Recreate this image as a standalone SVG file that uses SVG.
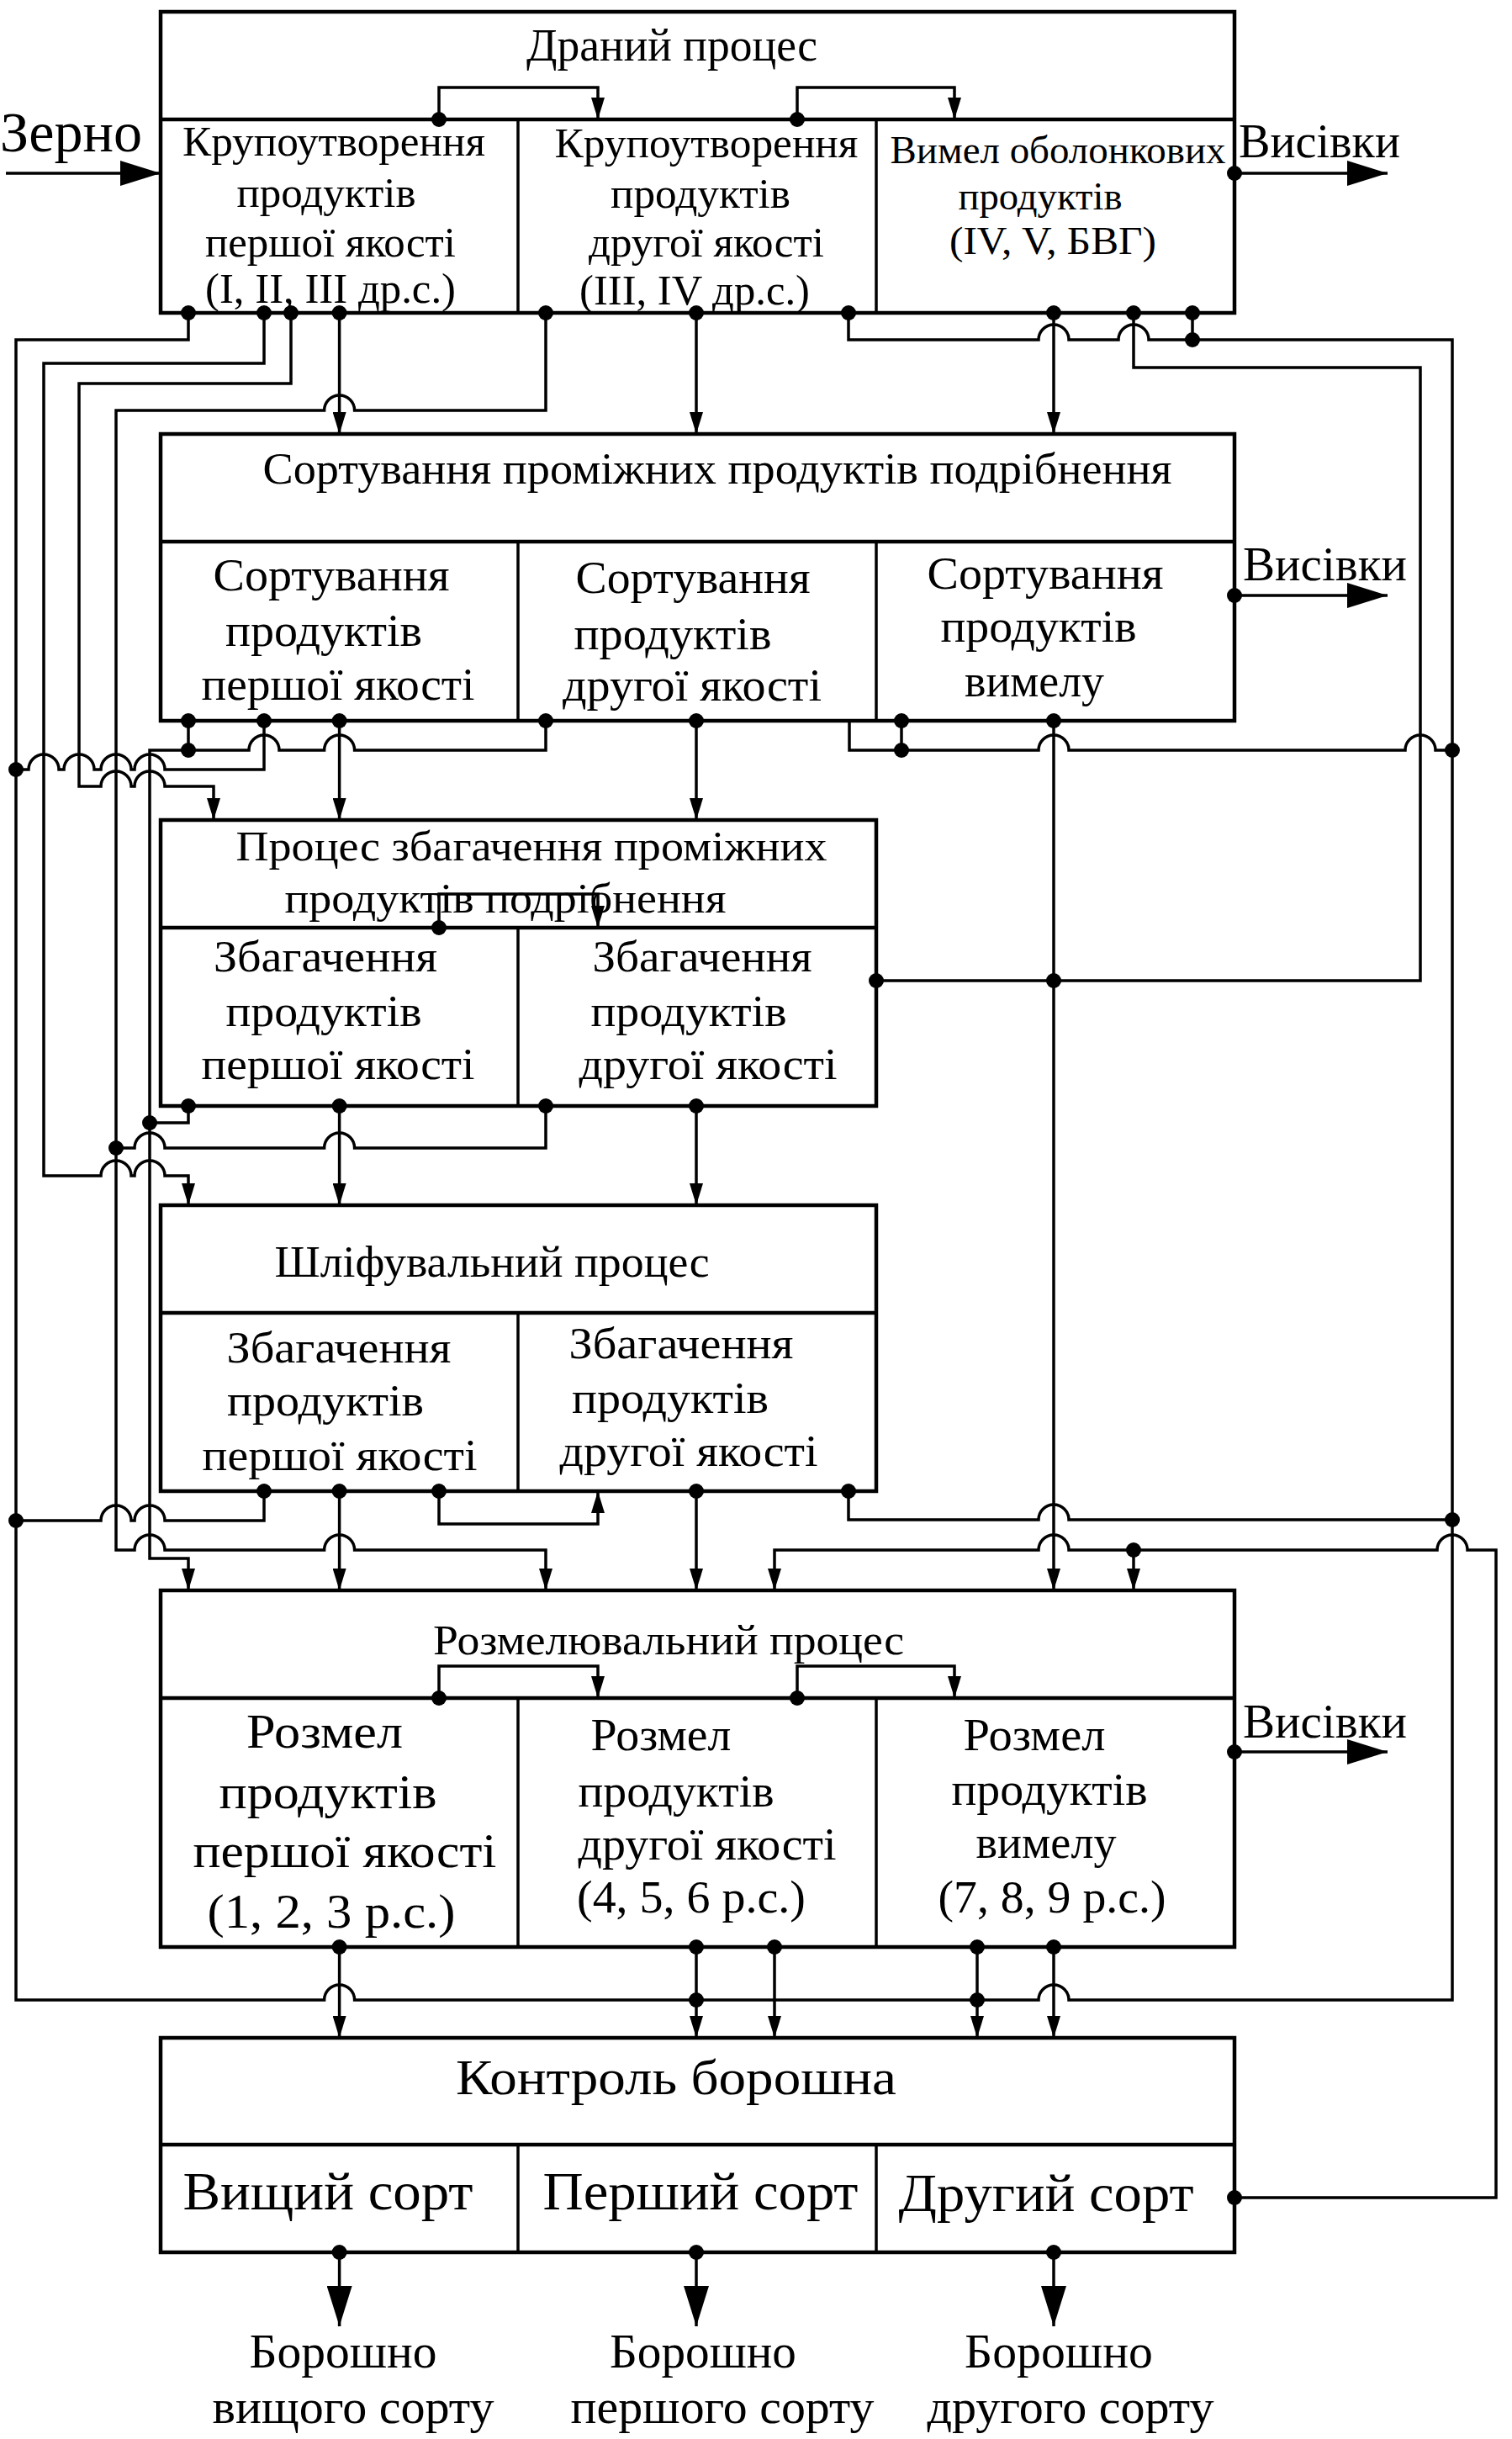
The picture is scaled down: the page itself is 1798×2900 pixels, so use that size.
<svg xmlns="http://www.w3.org/2000/svg" width="1798" height="2900" viewBox="0 0 1798 2900">
<style>
.b{fill:none;stroke:#000;stroke-width:4.5}
.v{fill:none;stroke:#000;stroke-width:3.5}
.c{fill:none;stroke:#000;stroke-width:3.5}
.ca{fill:none;stroke:#000;stroke-width:3.5;marker-end:url(#ar)}
.cb{fill:none;stroke:#000;stroke-width:3.5;marker-end:url(#big)}
.t{font-family:"Liberation Serif","Times New Roman",serif;fill:#000;text-anchor:middle}
.s{font-family:"Liberation Serif","Times New Roman",serif;fill:#000}
circle{fill:#000}
</style>
<defs>
<marker id="ar" viewBox="0 0 26 16" refX="26" refY="8" markerWidth="26" markerHeight="16" markerUnits="userSpaceOnUse" orient="auto"><path d="M0,0 L26,8 L0,16 z" fill="#000"/></marker>
<marker id="big" viewBox="0 0 48 30" refX="48" refY="15" markerWidth="48" markerHeight="30" markerUnits="userSpaceOnUse" orient="auto"><path d="M0,0 L48,15 L0,30 z" fill="#000"/></marker>
</defs>
<rect width="1798" height="2900" fill="#fff"/>

<g id="drany">
<rect class="b" x="191" y="14" width="1277" height="358"/>
<line class="b" x1="191" y1="142" x2="1468" y2="142"/>
<line class="v" x1="616" y1="142" x2="616" y2="372"/>
<line class="v" x1="1042" y1="142" x2="1042" y2="372"/>
<text class="t" x="799" y="72" font-size="54" textLength="346" lengthAdjust="spacingAndGlyphs">Драний процес</text>
<text class="t" x="397" y="185" font-size="50" textLength="360" lengthAdjust="spacingAndGlyphs">Крупоутворення</text>
<text class="t" x="388" y="246" font-size="50" textLength="213" lengthAdjust="spacingAndGlyphs">продуктів</text>
<text class="t" x="393" y="305" font-size="50" textLength="298" lengthAdjust="spacingAndGlyphs">першої якості</text>
<text class="t" x="393" y="360" font-size="50" textLength="298" lengthAdjust="spacingAndGlyphs">(I, II, III др.с.)</text>
<text class="t" x="840" y="187" font-size="50" textLength="361" lengthAdjust="spacingAndGlyphs">Крупоутворення</text>
<text class="t" x="833" y="247" font-size="50" textLength="214" lengthAdjust="spacingAndGlyphs">продуктів</text>
<text class="t" x="840" y="305" font-size="50" textLength="280" lengthAdjust="spacingAndGlyphs">другої якості</text>
<text class="t" x="826" y="362" font-size="50" textLength="274" lengthAdjust="spacingAndGlyphs">(III, IV др.с.)</text>
<text class="t" x="1258" y="194" font-size="46" textLength="399" lengthAdjust="spacingAndGlyphs">Вимел оболонкових</text>
<text class="t" x="1237" y="249" font-size="46" textLength="195" lengthAdjust="spacingAndGlyphs">продуктів</text>
<text class="t" x="1252" y="302" font-size="46" textLength="246" lengthAdjust="spacingAndGlyphs">(IV, V, БВГ)</text>
</g>

<g id="labels">
<text class="s" x="0" y="180" font-size="68" textLength="169" lengthAdjust="spacingAndGlyphs">Зерно</text>
<text class="s" x="1473" y="187" font-size="56" textLength="192" lengthAdjust="spacingAndGlyphs">Висівки</text>
<text class="s" x="1478" y="690" font-size="56" textLength="195" lengthAdjust="spacingAndGlyphs">Висівки</text>
<text class="s" x="1478" y="2066" font-size="56" textLength="195" lengthAdjust="spacingAndGlyphs">Висівки</text>
<text class="t" x="408" y="2815" font-size="57" textLength="223" lengthAdjust="spacingAndGlyphs">Борошно</text>
<text class="t" x="420" y="2881" font-size="57" textLength="335" lengthAdjust="spacingAndGlyphs">вищого сорту</text>
<text class="t" x="836" y="2815" font-size="57" textLength="222" lengthAdjust="spacingAndGlyphs">Борошно</text>
<text class="t" x="859" y="2881" font-size="57" textLength="361" lengthAdjust="spacingAndGlyphs">першого сорту</text>
<text class="t" x="1259" y="2815" font-size="57" textLength="224" lengthAdjust="spacingAndGlyphs">Борошно</text>
<text class="t" x="1273" y="2881" font-size="57" textLength="341" lengthAdjust="spacingAndGlyphs">другого сорту</text>
</g>

<g id="sortuvannia">
<rect class="b" x="191" y="516" width="1277" height="341"/>
<line class="b" x1="191" y1="644" x2="1468" y2="644"/>
<line class="v" x1="616" y1="644" x2="616" y2="857"/>
<line class="v" x1="1042" y1="644" x2="1042" y2="857"/>
<text class="t" x="853" y="575" font-size="53" textLength="1081" lengthAdjust="spacingAndGlyphs">Сортування проміжних продуктів подрібнення</text>
<text class="t" x="394" y="702" font-size="54" textLength="281" lengthAdjust="spacingAndGlyphs">Сортування</text>
<text class="t" x="385" y="768" font-size="54" textLength="234" lengthAdjust="spacingAndGlyphs">продуктів</text>
<text class="t" x="402" y="832" font-size="54" textLength="325" lengthAdjust="spacingAndGlyphs">першої якості</text>
<text class="t" x="824" y="705" font-size="54" textLength="279" lengthAdjust="spacingAndGlyphs">Сортування</text>
<text class="t" x="800" y="772" font-size="54" textLength="235" lengthAdjust="spacingAndGlyphs">продуктів</text>
<text class="t" x="823" y="833" font-size="54" textLength="308" lengthAdjust="spacingAndGlyphs">другої якості</text>
<text class="t" x="1243" y="700" font-size="54" textLength="281" lengthAdjust="spacingAndGlyphs">Сортування</text>
<text class="t" x="1235" y="763" font-size="54" textLength="233" lengthAdjust="spacingAndGlyphs">продуктів</text>
<text class="t" x="1230" y="828" font-size="54" textLength="166" lengthAdjust="spacingAndGlyphs">вимелу</text>
</g>

<g id="zbagachennia">
<rect class="b" x="191" y="975" width="851" height="340"/>
<line class="b" x1="191" y1="1103" x2="1042" y2="1103"/>
<line class="v" x1="616" y1="1103" x2="616" y2="1315"/>
<text class="t" x="632" y="1023" font-size="51" textLength="703" lengthAdjust="spacingAndGlyphs">Процес збагачення проміжних</text>
<text class="t" x="601" y="1085" font-size="51" textLength="525" lengthAdjust="spacingAndGlyphs">продуктів подрібнення</text>
<text class="t" x="387" y="1155" font-size="53" textLength="266" lengthAdjust="spacingAndGlyphs">Збагачення</text>
<text class="t" x="385" y="1220" font-size="53" textLength="233" lengthAdjust="spacingAndGlyphs">продуктів</text>
<text class="t" x="402" y="1283" font-size="53" textLength="325" lengthAdjust="spacingAndGlyphs">першої якості</text>
<text class="t" x="835" y="1155" font-size="53" textLength="261" lengthAdjust="spacingAndGlyphs">Збагачення</text>
<text class="t" x="819" y="1220" font-size="53" textLength="233" lengthAdjust="spacingAndGlyphs">продуктів</text>
<text class="t" x="842" y="1283" font-size="53" textLength="307" lengthAdjust="spacingAndGlyphs">другої якості</text>
</g>

<g id="shlifuvannia">
<rect class="b" x="191" y="1433" width="851" height="340"/>
<line class="b" x1="191" y1="1561" x2="1042" y2="1561"/>
<line class="v" x1="616" y1="1561" x2="616" y2="1773"/>
<text class="t" x="585" y="1518" font-size="53" textLength="517" lengthAdjust="spacingAndGlyphs">Шліфувальний процес</text>
<text class="t" x="403" y="1620" font-size="53" textLength="267" lengthAdjust="spacingAndGlyphs">Збагачення</text>
<text class="t" x="387" y="1683" font-size="53" textLength="234" lengthAdjust="spacingAndGlyphs">продуктів</text>
<text class="t" x="404" y="1748" font-size="53" textLength="327" lengthAdjust="spacingAndGlyphs">першої якості</text>
<text class="t" x="810" y="1615" font-size="53" textLength="267" lengthAdjust="spacingAndGlyphs">Збагачення</text>
<text class="t" x="797" y="1680" font-size="53" textLength="234" lengthAdjust="spacingAndGlyphs">продуктів</text>
<text class="t" x="819" y="1743" font-size="53" textLength="307" lengthAdjust="spacingAndGlyphs">другої якості</text>
</g>

<g id="rozmel">
<rect class="b" x="191" y="1891" width="1277" height="424"/>
<line class="b" x1="191" y1="2019" x2="1468" y2="2019"/>
<line class="v" x1="616" y1="2019" x2="616" y2="2315"/>
<line class="v" x1="1042" y1="2019" x2="1042" y2="2315"/>
<text class="t" x="795" y="1967" font-size="50" textLength="560" lengthAdjust="spacingAndGlyphs">Розмелювальний процес</text>
<text class="t" x="386" y="2078" font-size="58" textLength="186" lengthAdjust="spacingAndGlyphs">Розмел</text>
<text class="t" x="390" y="2150" font-size="58" textLength="259" lengthAdjust="spacingAndGlyphs">продуктів</text>
<text class="t" x="410" y="2220" font-size="58" textLength="361" lengthAdjust="spacingAndGlyphs">першої якості</text>
<text class="t" x="394" y="2292" font-size="58" textLength="295" lengthAdjust="spacingAndGlyphs">(1, 2, 3 р.с.)</text>
<text class="t" x="786" y="2081" font-size="54" textLength="167" lengthAdjust="spacingAndGlyphs">Розмел</text>
<text class="t" x="804" y="2148" font-size="54" textLength="233" lengthAdjust="spacingAndGlyphs">продуктів</text>
<text class="t" x="841" y="2211" font-size="54" textLength="307" lengthAdjust="spacingAndGlyphs">другої якості</text>
<text class="t" x="822" y="2274" font-size="54" textLength="272" lengthAdjust="spacingAndGlyphs">(4, 5, 6 р.с.)</text>
<text class="t" x="1230" y="2081" font-size="54" textLength="169" lengthAdjust="spacingAndGlyphs">Розмел</text>
<text class="t" x="1248" y="2146" font-size="54" textLength="233" lengthAdjust="spacingAndGlyphs">продуктів</text>
<text class="t" x="1244" y="2209" font-size="54" textLength="167" lengthAdjust="spacingAndGlyphs">вимелу</text>
<text class="t" x="1251" y="2274" font-size="54" textLength="271" lengthAdjust="spacingAndGlyphs">(7, 8, 9 р.с.)</text>
</g>

<g id="kontrol">
<rect class="b" x="191" y="2423" width="1277" height="255"/>
<line class="b" x1="191" y1="2550" x2="1468" y2="2550"/>
<line class="v" x1="616" y1="2550" x2="616" y2="2678"/>
<line class="v" x1="1042" y1="2550" x2="1042" y2="2678"/>
<text class="t" x="804" y="2490" font-size="60" textLength="524" lengthAdjust="spacingAndGlyphs">Контроль борошна</text>
<text class="t" x="390" y="2627" font-size="63" textLength="345" lengthAdjust="spacingAndGlyphs">Вищий сорт</text>
<text class="t" x="833" y="2627" font-size="63" textLength="375" lengthAdjust="spacingAndGlyphs">Перший сорт</text>
<text class="t" x="1244" y="2629" font-size="63" textLength="351" lengthAdjust="spacingAndGlyphs">Другий сорт</text>
</g>

<g id="connectors">
<path class="cb" d="M7,206 H191"/>
<path class="cb" d="M1468,206 H1650"/>
<path class="cb" d="M1468,708 H1650"/>
<path class="cb" d="M1468,2083 H1650"/>
<path class="ca" d="M522,142 V104 H711 V142"/>
<path class="ca" d="M948,142 V104 H1135 V142"/>
<path class="c" d="M224,372 V404 H19 V2378 H385.6 A18,18 0 0 1 421.6,2378 H1235 A18,18 0 0 1 1271,2378 H1727 V404 H1366 A18,18 0 0 0 1330,404 H1271 A18,18 0 0 0 1235,404 H1009 V372"/>
<path class="ca" d="M314,372 V432 H52 V1398 H120 A18,18 0 0 1 156,1398 H160 A18,18 0 0 1 196,1398 H224 V1433"/>
<path class="ca" d="M346,372 V456 H94 V935 H120 A18,18 0 0 1 156,935 H160 A18,18 0 0 1 196,935 H254 V975"/>
<path class="ca" d="M403.6,372 V516"/>
<path class="ca" d="M649,372 V488 H421.6 A18,18 0 0 0 385.6,488 H138 V1843 H160 A18,18 0 0 1 196,1843 H385.6 A18,18 0 0 1 421.6,1843 H649 V1891"/>
<path class="ca" d="M828,372 V516"/>
<path class="ca" d="M1253,372 V516"/>
<path class="c" d="M1348,372 V437 H1689 V1166 H1042"/>
<path class="c" d="M1418,372 V404"/>
<path class="c" d="M224,857 V892"/>
<path class="c" d="M314,857 V915 H196 A18,18 0 0 0 160,915 H156 A18,18 0 0 0 120,915 H112 A18,18 0 0 0 76,915 H70 A18,18 0 0 0 34,915 H19"/>
<path class="ca" d="M403.6,857 V975"/>
<path class="ca" d="M649,857 V892 H421.6 A18,18 0 0 0 385.6,892 H332 A18,18 0 0 0 296,892 H178 V1853 H224 V1891"/>
<path class="ca" d="M828,857 V975"/>
<path class="c" d="M1010,857 V892 H1235 A18,18 0 0 1 1271,892 H1671 A18,18 0 0 1 1707,892 H1727"/>
<path class="c" d="M1072,857 V892"/>
<path class="ca" d="M1253,857 V1891"/>
<path class="ca" d="M522,1103 V1063 H711 V1103"/>
<path class="c" d="M224,1315 V1335 H178"/>
<path class="ca" d="M403.6,1315 V1433"/>
<path class="c" d="M649,1315 V1365 H421.6 A18,18 0 0 0 385.6,1365 H196 A18,18 0 0 0 160,1365 H138"/>
<path class="ca" d="M828,1315 V1433"/>
<path class="c" d="M314,1773 V1808 H196 A18,18 0 0 0 160,1808 H156 A18,18 0 0 0 120,1808 H19"/>
<path class="ca" d="M403.6,1773 V1891"/>
<path class="ca" d="M522,1773 V1812 H711 V1773"/>
<path class="ca" d="M828,1773 V1891"/>
<path class="c" d="M1009,1773 V1807 H1235 A18,18 0 0 1 1271,1807 H1727"/>
<path class="ca" d="M1468,2613 H1779 V1843 H1745 A18,18 0 0 0 1709,1843 H1271 A18,18 0 0 0 1235,1843 H921 V1891"/>
<path class="ca" d="M1348,1843 V1891"/>
<path class="ca" d="M522,2019 V1981 H711 V2019"/>
<path class="ca" d="M948,2019 V1981 H1135 V2019"/>
<path class="ca" d="M403.6,2315 V2423"/>
<path class="ca" d="M828,2315 V2423"/>
<path class="ca" d="M921,2315 V2423"/>
<path class="ca" d="M1162,2315 V2423"/>
<path class="ca" d="M1253,2315 V2423"/>
<path class="cb" d="M403.6,2678 V2766"/>
<path class="cb" d="M828,2678 V2766"/>
<path class="cb" d="M1253,2678 V2766"/>
<g id="dots">
<circle cx="522" cy="142" r="9"/><circle cx="948" cy="142" r="9"/><circle cx="1468" cy="206" r="9"/>
<circle cx="224" cy="372" r="9"/><circle cx="314" cy="372" r="9"/><circle cx="346" cy="372" r="9"/><circle cx="403.6" cy="372" r="9"/><circle cx="649" cy="372" r="9"/><circle cx="828" cy="372" r="9"/><circle cx="1009" cy="372" r="9"/><circle cx="1253" cy="372" r="9"/><circle cx="1348" cy="372" r="9"/><circle cx="1418" cy="372" r="9"/><circle cx="1418" cy="404" r="9"/>
<circle cx="1468" cy="708" r="9"/><circle cx="224" cy="857" r="9"/><circle cx="314" cy="857" r="9"/><circle cx="403.6" cy="857" r="9"/><circle cx="649" cy="857" r="9"/><circle cx="828" cy="857" r="9"/><circle cx="1072" cy="857" r="9"/><circle cx="1253" cy="857" r="9"/><circle cx="224" cy="892" r="9"/><circle cx="1072" cy="892" r="9"/><circle cx="1727" cy="892" r="9"/><circle cx="19" cy="915" r="9"/>
<circle cx="522" cy="1103" r="9"/><circle cx="1042" cy="1166" r="9"/><circle cx="1253" cy="1166" r="9"/><circle cx="224" cy="1315" r="9"/><circle cx="403.6" cy="1315" r="9"/><circle cx="649" cy="1315" r="9"/><circle cx="828" cy="1315" r="9"/><circle cx="178" cy="1335" r="9"/><circle cx="138" cy="1365" r="9"/>
<circle cx="314" cy="1773" r="9"/><circle cx="403.6" cy="1773" r="9"/><circle cx="522" cy="1773" r="9"/><circle cx="828" cy="1773" r="9"/><circle cx="1009" cy="1773" r="9"/><circle cx="19" cy="1808" r="9"/><circle cx="1727" cy="1807" r="9"/><circle cx="1348" cy="1843" r="9"/>
<circle cx="522" cy="2019" r="9"/><circle cx="948" cy="2019" r="9"/><circle cx="1468" cy="2083" r="9"/><circle cx="403.6" cy="2315" r="9"/><circle cx="828" cy="2315" r="9"/><circle cx="921" cy="2315" r="9"/><circle cx="1162" cy="2315" r="9"/><circle cx="1253" cy="2315" r="9"/><circle cx="828" cy="2378" r="9"/><circle cx="1162" cy="2378" r="9"/>
<circle cx="1468" cy="2613" r="9"/><circle cx="403.6" cy="2678" r="9"/><circle cx="828" cy="2678" r="9"/><circle cx="1253" cy="2678" r="9"/>
</g>
</g>
</svg>
